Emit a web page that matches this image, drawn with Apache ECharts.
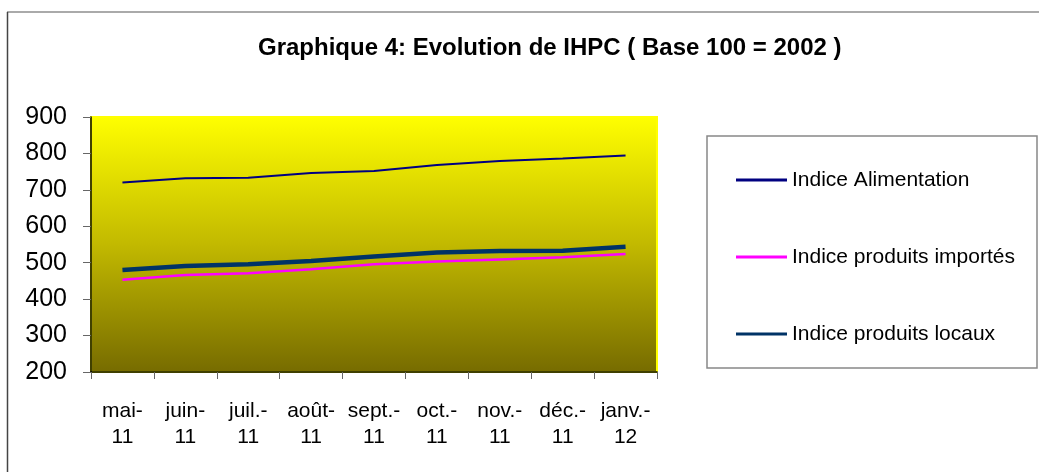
<!DOCTYPE html>
<html><head><meta charset="utf-8">
<script src="https://cdn.jsdelivr.net/npm/echarts@6/dist/echarts.min.js"></script>
<style>html,body{margin:0;padding:0;background:#fff}#c{width:1039px;height:472px}</style>
</head><body><div id="c"></div>
<script>
const categories = ['mai-\n11','juin-\n11','juil.-\n11','août-\n11','sept.-\n11','oct.-\n11','nov.-\n11','déc.-\n11','janv.-\n12'];
const alimentation = [720, 732, 733, 746, 752, 768, 779, 786, 794];
const importes = [453, 466, 471, 482, 496, 503, 509, 515, 524];
const locaux = [480, 491, 496, 505, 517, 528, 532, 533, 544];
const seriesNames = ['Indice Alimentation','Indice produits importés','Indice produits locaux'];
const FONT = 'Liberation Sans, Arial, sans-serif';
const chart = echarts.init(document.getElementById('c'));
chart.setOption({
  animation: false,
  title: {text: 'Graphique 4: Evolution de IHPC ( Base 100 = 2002 )', left: 253, top: 31,
    textStyle: {fontFamily: FONT, fontSize: 24, fontWeight: 'bold', color: '#000'}},
  graphic: [
    {type: 'line', shape: {x1: 7, y1: 12, x2: 1039, y2: 12}, style: {stroke: '#aaa', lineWidth: 2}, z: -10},
    {type: 'line', shape: {x1: 7.5, y1: 12, x2: 7.5, y2: 472}, style: {stroke: '#444', lineWidth: 1.5}, z: -10},
    {type: 'rect', shape: {x: 707, y: 136, width: 330, height: 232}, style: {fill: '#fff', stroke: '#888', lineWidth: 1.5}, z: -5}
  ],
  legend: {orient: 'vertical', left: 731, top: 163, itemGap: 53, itemWidth: 51, itemHeight: 3, icon: 'rect',
    textStyle: {fontFamily: FONT, fontSize: 21, lineHeight: 24, color: '#000'}, data: seriesNames, z: 10},
  grid: {left: 91, right: 382, top: 117, bottom: 100, show: true,
    borderColor: '#ffff00', borderWidth: 2,
    backgroundColor: {type: 'linear', x: 0, y: 0, x2: 0, y2: 1,
      colorStops: [{offset: 0, color: '#ffff00'}, {offset: 0.5, color: '#c2b900'}, {offset: 1, color: '#766b00'}]}},
  xAxis: {type: 'category', data: categories, boundaryGap: true,
    axisLine: {lineStyle: {color: '#000', width: 1.5}},
    axisTick: {show: true, length: 7, lineStyle: {color: '#666'}},
    axisLabel: {fontFamily: FONT, fontSize: 21, color: '#000', lineHeight: 26, margin: 26, interval: 0}},
  yAxis: {type: 'value', min: 200, max: 900, interval: 100,
    axisLine: {show: true, lineStyle: {color: '#000', width: 1.5}},
    axisTick: {show: true, length: 8, lineStyle: {color: '#666'}},
    splitLine: {show: false},
    axisLabel: {fontFamily: FONT, fontSize: 25, color: '#000', margin: 24}},
  series: [
    {name: seriesNames[0], type: 'line', data: alimentation, symbol: 'none', lineStyle: {color: '#000080', width: 2}, itemStyle: {color: '#000080'}},
    {name: seriesNames[1], type: 'line', data: importes, symbol: 'none', lineStyle: {color: '#ff00ff', width: 2.5}, itemStyle: {color: '#ff00ff'}},
    {name: seriesNames[2], type: 'line', data: locaux, symbol: 'none', lineStyle: {color: '#003366', width: 4.5}, itemStyle: {color: '#003366'}}
  ]
});
</script></body></html>
